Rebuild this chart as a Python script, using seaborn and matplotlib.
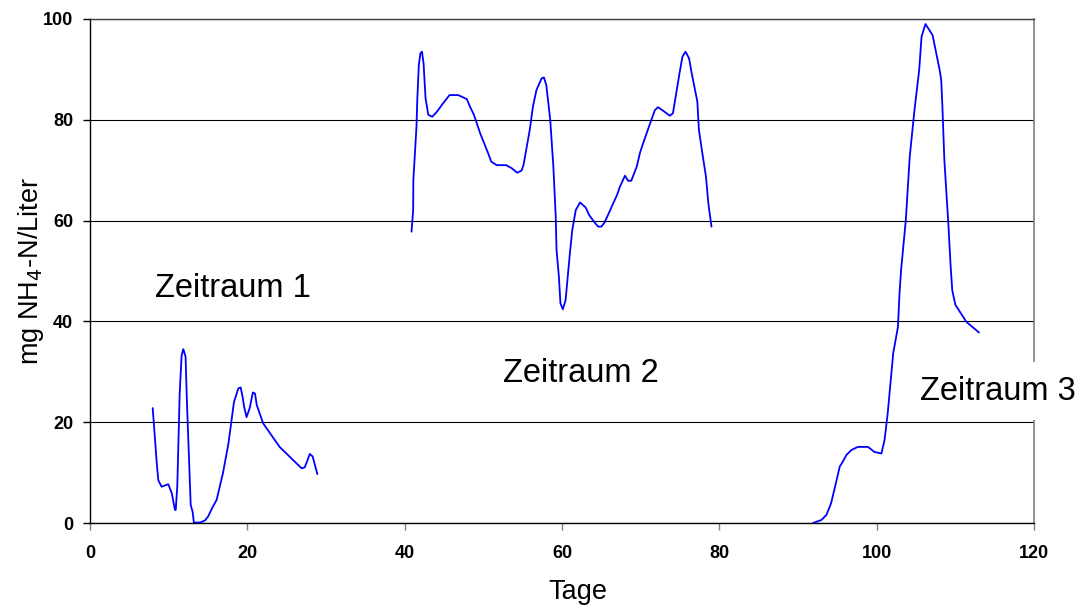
import matplotlib
matplotlib.use("Agg")
import matplotlib.pyplot as plt
import numpy as np
import pandas as pd
import seaborn as sns

# ---- data ----
days_1 = [7.97, 8.47, 8.68, 9.1, 9.95, 10.4, 10.8, 10.9, 11.1, 11.4, 11.65, 11.86, 12.15, 12.3,
          12.8, 13.05, 13.2, 14.0, 14.6, 15.0, 15.5, 16.1, 16.9, 17.6, 18.3, 18.85, 19.15, 19.4,
          19.6, 19.9, 20.3, 20.7, 20.97, 21.2, 22.0, 24.1, 26.9, 27.3, 27.95, 28.3, 28.9]
nh4_1 = [22.8, 12.2, 8.5, 7.2, 7.7, 5.9, 2.6, 2.6, 7.5, 25.7, 33.3, 34.5, 33.0, 25.0,
         3.6, 2.2, 0.1, 0.1, 0.5, 1.25, 2.9, 4.6, 9.9, 15.8, 24.0, 26.7, 26.9, 25.0,
         23.0, 21.0, 22.8, 25.9, 25.7, 23.4, 19.8, 15.1, 10.85, 11.05, 13.7, 13.2, 9.7]

days_2 = [40.87, 41.08, 41.1, 41.5, 41.6, 41.8, 42.0, 42.2, 42.4, 42.65, 43.0, 43.5, 44.1, 44.7,
          45.7, 46.8, 47.9, 48.3, 48.8, 49.6, 50.6, 51.0, 51.7, 52.9, 53.6, 54.3, 54.85, 55.1,
          55.9, 56.3, 56.75, 57.4, 57.7, 58.0, 58.5, 58.9, 59.2, 59.3, 59.6, 59.8, 60.1, 60.45,
          61.0, 61.3, 61.75, 62.3, 63.0, 63.45, 64.2, 64.6, 65.0, 65.4, 65.9, 66.5, 67.0, 67.35,
          68.0, 68.4, 68.8, 69.5, 69.9, 70.3, 71.2, 71.8, 72.2, 72.85, 73.7, 74.1, 74.9, 75.3,
          75.7, 76.15, 76.45, 77.2, 77.4, 77.9, 78.3, 78.6, 79.0]
nh4_2 = [57.8, 62.1, 68.0, 78.6, 83.9, 90.9, 93.2, 93.5, 91.2, 84.3, 81.0, 80.6, 81.6, 82.9,
         84.9, 84.9, 84.1, 82.6, 81.0, 77.3, 73.4, 71.7, 71.0, 71.0, 70.4, 69.5, 69.9, 71.0,
         78.0, 82.6, 85.9, 88.2, 88.4, 86.9, 80.0, 70.7, 60.8, 54.2, 48.9, 43.6, 42.4, 44.2,
         53.5, 58.1, 62.1, 63.6, 62.6, 61.1, 59.5, 58.8, 58.8, 59.6, 61.3, 63.4, 65.1, 66.7,
         68.9, 67.9, 67.9, 70.7, 73.4, 75.3, 79.3, 81.9, 82.5, 81.8, 80.8, 81.3, 88.9, 92.5,
         93.5, 92.2, 89.5, 83.6, 78.0, 72.7, 68.7, 63.4, 58.8]

days_3 = [91.9, 92.97, 93.6, 94.2, 94.9, 95.3, 95.7, 96.15, 96.8, 97.6, 98.9, 99.7, 100.6,
          101.0, 101.4, 102.1, 102.7, 102.9, 103.1, 103.7, 104.2, 104.8, 105.4, 105.7, 106.2,
          107.1, 108.0, 108.2, 108.35, 108.6, 109.1, 109.4, 109.6, 110.0, 111.4, 113.0]
nh4_3 = [0.0, 0.6, 1.6, 3.9, 8.5, 11.2, 12.2, 13.5, 14.5, 15.1, 15.1, 14.1, 13.8,
         16.5, 21.8, 33.7, 38.9, 45.6, 50.2, 60.1, 72.7, 81.9, 89.9, 96.5, 99.0,
         96.8, 89.9, 87.9, 82.6, 72.0, 59.5, 50.9, 46.2, 43.3, 39.9, 37.8]

x_ticks = [0, 20, 40, 60, 80, 100, 120]
y_ticks = [0, 20, 40, 60, 80, 100]
period_labels = ["Zeitraum 1", "Zeitraum 2", "Zeitraum 3"]

df = pd.concat([
    pd.DataFrame({"Tage": days_1, "NH4": nh4_1, "Zeitraum": period_labels[0]}),
    pd.DataFrame({"Tage": days_2, "NH4": nh4_2, "Zeitraum": period_labels[1]}),
    pd.DataFrame({"Tage": days_3, "NH4": nh4_3, "Zeitraum": period_labels[2]}),
])

sns.set_theme(style="white")
plt.rcParams["font.family"] = ["Liberation Sans", "DejaVu Sans"]

fig = plt.figure(figsize=(10.83, 6.12), dpi=100)
ax = fig.add_axes([0.0831, 0.1454, 0.8717, 0.8236])

sns.lineplot(data=df, x="Tage", y="NH4", units="Zeitraum", estimator=None, sort=False,
             color="#0000ff", lw=1.3, ax=ax, legend=False, zorder=3)

ax.set_xlim(0, 120)
ax.set_ylim(0, 100)
ax.set_xticks(x_ticks)
ax.set_yticks(y_ticks)
ax.set_xticklabels([str(t) for t in x_ticks], fontsize=13, fontweight="bold")
ax.set_yticklabels([str(t) for t in y_ticks], fontsize=13, fontweight="bold")

ax.yaxis.grid(True, color="black", lw=0.8)
ax.xaxis.grid(False)
ax.set_axisbelow(True)

for side in ["left", "bottom"]:
    ax.spines[side].set_color("black")
    ax.spines[side].set_linewidth(1.0)
ax.spines["top"].set_color("#404040")
ax.spines["top"].set_linewidth(1.0)
ax.spines["right"].set_color("#808080")
ax.spines["right"].set_linewidth(1.2)

ax.tick_params(axis="x", direction="out", length=5, width=1, color="#808080",
               pad=11, bottom=True, labelcolor="black")
ax.tick_params(axis="y", direction="out", length=5, width=1, color="black",
               pad=7, left=True, labelcolor="black")

ax.set_xlabel("Tage", fontsize=19.5, color="black")
ax.set_ylabel("mg NH$_4$-N/Liter", fontsize=19.5, color="black")
ax.xaxis.set_label_coords(0.517, -0.137)
ax.xaxis.label.set_va("center")
ax.yaxis.set_label_coords(-0.0625, 0.50)
ax.yaxis.label.set_va("center")
ax.yaxis.label.set_ha("center")

ax.text(8.26, 44.8, period_labels[0], fontsize=23.5, va="baseline", ha="left", color="black")
ax.text(52.5, 28.0, period_labels[1], fontsize=23.5, va="baseline", ha="left", color="black")
ax.text(105.55, 24.5, period_labels[2], fontsize=23.5, va="baseline", ha="left", color="black",
        clip_on=False, zorder=5,
        bbox=dict(boxstyle="square,pad=0.4", fc="white", ec="none"))

fig.savefig("out.png", dpi=100)
